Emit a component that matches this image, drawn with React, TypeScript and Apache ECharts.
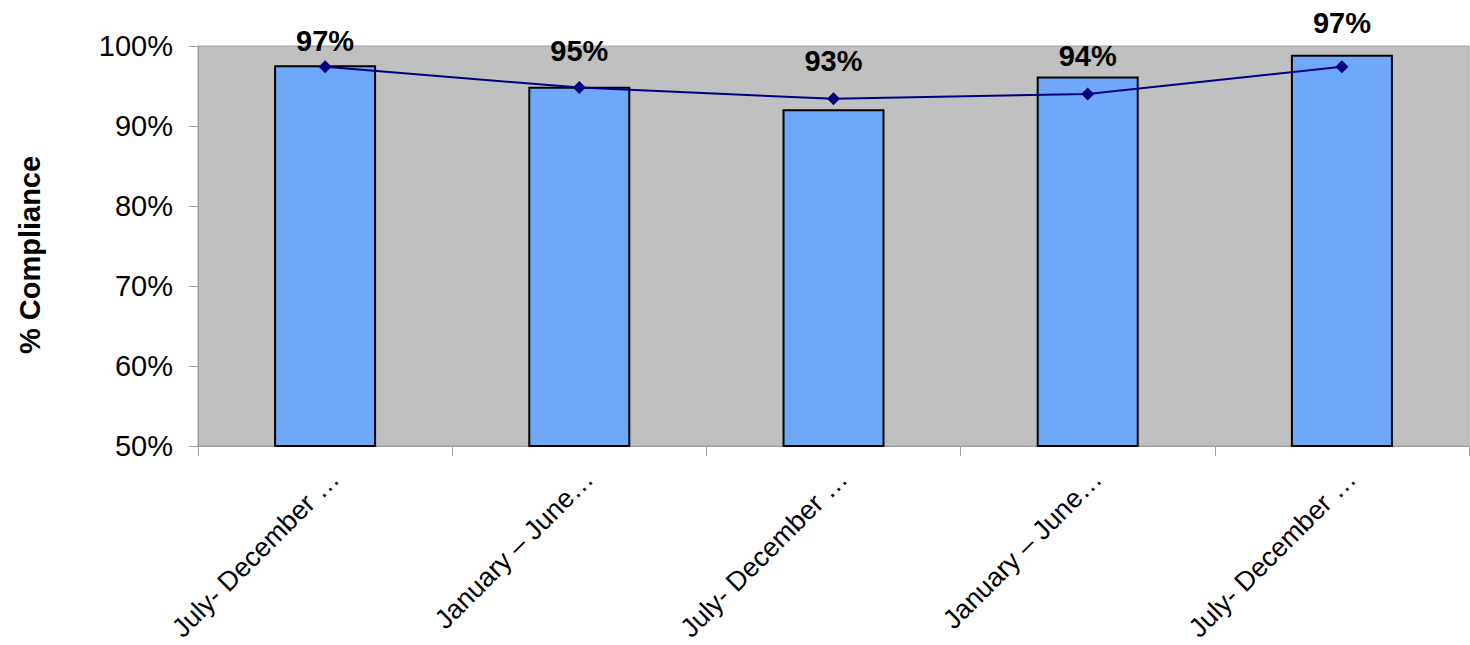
import React, { useEffect, useRef } from "react";
import * as echarts from "echarts";

const categories = [
  "July- December …",
  "January – June…",
  "July- December …",
  "January – June…",
  "July- December …",
];
const barValues = [97.6, 94.9, 92.1, 96.2, 98.9];
const lineValues = [97.4, 94.8, 93.4, 94.0, 97.4];
const lineLabels = ["97%", "95%", "93%", "94%", "97%"];
const labelDy = [-26, -37, -38, -38, -44];
const yTicks = { min: 50, max: 100, interval: 10 };

const FONT = "'Liberation Sans', Arial, sans-serif";

export default function App() {
  const ref = useRef<HTMLDivElement>(null);
  useEffect(() => {
    const chart = echarts.init(ref.current!, null, { renderer: "svg" });
    chart.setOption({
      animation: false,
      textStyle: { fontFamily: FONT },
      grid: {
        left: 198,
        right: 1,
        top: 46,
        bottom: 199,
        containLabel: false,
        outerBoundsMode: "none",
        show: true,
        backgroundColor: "#C0C0C0",
        borderColor: "#A0A0A0",
        borderWidth: 1,
      },
      xAxis: {
        type: "category",
        data: categories,
        axisLine: { show: true, lineStyle: { color: "#A0A0A0", width: 1 } },
        axisTick: { show: true, length: 10, lineStyle: { color: "#A0A0A0" } },
        axisLabel: {
          rotate: 45,
          margin: 19,
          color: "#000",
          fontSize: 27,
          fontFamily: FONT,
          interval: 0,
          verticalAlign: "top",
        },
      },
      yAxis: {
        type: "value",
        min: yTicks.min,
        max: yTicks.max,
        interval: yTicks.interval,
        name: "% Compliance",
        nameLocation: "middle",
        nameGap: 154,
        nameTextStyle: {
          fontSize: 29,
          fontWeight: "bold",
          color: "#000",
          fontFamily: FONT,
          padding: [0, 18, 0, 0],
        },
        axisLine: { show: true, lineStyle: { color: "#A0A0A0" } },
        axisTick: { show: true, length: 9, lineStyle: { color: "#A0A0A0" } },
        splitLine: { show: false },
        axisLabel: {
          formatter: "{value}%",
          color: "#000",
          fontSize: 29,
          fontFamily: FONT,
          margin: 25,
        },
      },
      series: [
        {
          type: "bar",
          data: barValues,
          barWidth: 102,
          itemStyle: { color: "#6FA8F8", borderColor: "#000", borderWidth: 2 },
          z: 2,
        },
        {
          type: "line",
          data: lineValues.map((v, i) => ({
            value: v,
            label: {
              show: true,
              position: "inside",
              offset: [0, labelDy[i]],
              formatter: () => lineLabels[i],
              fontSize: 29,
              fontWeight: "bold",
              color: "#000",
              fontFamily: FONT,
            },
          })),
          symbol: "diamond",
          symbolSize: 13,
          lineStyle: { color: "#000080", width: 2 },
          itemStyle: { color: "#000080" },
          z: 3,
        },
      ],
    });
    return () => chart.dispose();
  }, []);
  return (
    <div
      ref={ref}
      style={{ position: "absolute", left: 0, top: 0, width: 1470, height: 645, background: "#fff" }}
    />
  );
}
